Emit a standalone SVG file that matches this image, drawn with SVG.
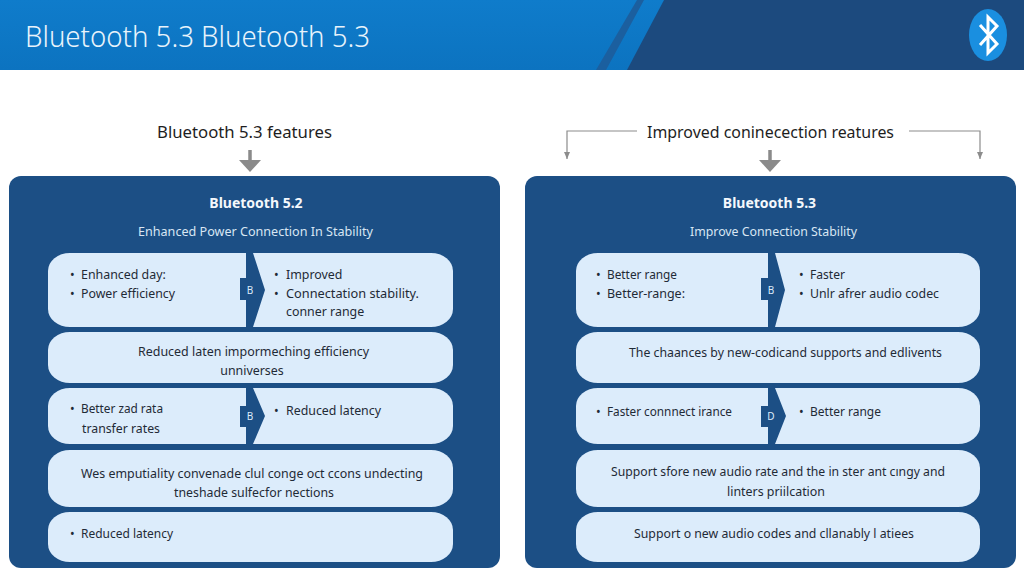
<svg xmlns="http://www.w3.org/2000/svg" width="1024" height="585" viewBox="0 0 1024 585">
<style>
text{font-family:"Noto Sans","Open Sans","Liberation Sans",sans-serif}
.panel{fill:#1c4f85}
.row{fill:#dcecfb}
.t{font-size:12.4px;fill:#1f2a36}
.m{text-anchor:middle}
.h{font-size:14px;font-weight:700;fill:#f4f8fc;text-anchor:middle}
.s{font-size:12.5px;fill:#d8e6f3;text-anchor:middle}
.c{font-size:16px;fill:#1e1e1e;text-anchor:middle}
.chev{fill:#1c4f85}
.b{font-size:10px;fill:#dcecfb;text-anchor:middle}
.thin{fill:none;stroke:#8c8c8c;stroke-width:1.2}
.thick{fill:none;stroke:#8a8a8a;stroke-width:3.5}
</style>
<defs>
<linearGradient id="hg" x1="0" y1="0" x2="0" y2="1"><stop offset="0" stop-color="#0f7ccb"/><stop offset="1" stop-color="#0c73c0"/></linearGradient>
<marker id="big" markerUnits="userSpaceOnUse" markerWidth="14" markerHeight="22" refX="1" refY="11" orient="auto"><path d="M0 0V22L12 11Z" fill="#8a8a8a"/></marker>
<marker id="small" markerUnits="userSpaceOnUse" markerWidth="8" markerHeight="8" refX="7" refY="3" orient="auto"><path d="M0 0L7 3L0 6Z" fill="#8c8c8c"/></marker>
</defs>
<rect width="1024" height="585" fill="#fff"/>
<g id="header">
<rect width="1024" height="70" fill="url(#hg)"/>
<path d="M664 0H1024V70H627Z" fill="#1c4a7e"/>
<path d="M637 0H644L606 70H596Z" fill="#1b5f9f"/>
<text x="25" y="47" font-size="30" font-weight="300" fill="#e8f3fb" textLength="345" lengthAdjust="spacingAndGlyphs">Bluetooth 5.3 Bluetooth 5.3</text>
</g>
<g id="bluetooth-icon">
<ellipse cx="988" cy="35" rx="19" ry="26" fill="#1a8fe0"/>
<path d="M980 25L997 44L988 53V17L997 26L980 45" fill="none" stroke="#fff" stroke-width="3"/>
</g>
<g id="label-left"><text class="c" x="244.500" y="138" textLength="175" lengthAdjust="spacingAndGlyphs">Bluetooth 5.3 features</text></g>
<g id="label-right"><text class="c" x="770.500" y="138" textLength="247" lengthAdjust="spacingAndGlyphs">Improved coninecection reatures</text></g>
<g id="connectors">
<path class="thick" d="M250 150V161" marker-end="url(#big)"/>
<path class="thick" d="M770 150V161" marker-end="url(#big)"/>
<path class="thin" d="M637 131H567V159" marker-end="url(#small)"/>
<path class="thin" d="M909 131H980V159" marker-end="url(#small)"/>
</g>
<g id="panel-left">
<rect class="panel" x="9" y="176" width="491" height="392" rx="12"/>
<text class="h" x="256" y="208">Bluetooth 5.2</text>
<text class="s" x="255.500" y="236" textLength="235" lengthAdjust="spacingAndGlyphs">Enhanced Power Connection In Stability</text>
</g>
<g id="panel-right">
<rect class="panel" x="525" y="176" width="491" height="392" rx="12"/>
<text class="h" x="769.500" y="208">Bluetooth 5.3</text>
<text class="s" x="773.500" y="236" textLength="167" lengthAdjust="spacingAndGlyphs">Improve Connection Stability</text>
</g>
<g id="left-row-1">
<rect class="row" x="48" y="253" width="405" height="74" rx="22" ry="18"/>
<path class="chev" d="M246 253H253L265 290L253 327H246V300H240V278H246Z"/>
<text class="b" x="250" y="294">B</text>
<text class="t" x="70" y="279">•</text><text class="t" x="81" y="279">Enhanced day:</text>
<text class="t" x="70" y="298">•</text><text class="t" x="81" y="298" textLength="94" lengthAdjust="spacingAndGlyphs">Power efficiency</text>
<text class="t" x="274" y="279">•</text><text class="t" x="286" y="279">Improved</text>
<text class="t" x="274" y="298">•</text><text class="t" x="286" y="298" textLength="133" lengthAdjust="spacingAndGlyphs">Connectation stability.</text>
<text class="t" x="286" y="316">conner range</text>
</g>
<g id="left-row-2">
<rect class="row" x="48" y="332" width="405" height="51" rx="22" ry="18"/>
<text class="t m" x="253.500" y="356" textLength="231" lengthAdjust="spacingAndGlyphs">Reduced laten impormeching efficiency</text>
<text class="t m" x="252" y="375">unniverses</text>
</g>
<g id="left-row-3">
<rect class="row" x="48" y="388" width="405" height="56" rx="22" ry="18"/>
<path class="chev" d="M246 388H253L265 416L253 444H246V427H240V406H246Z"/>
<text class="b" x="250" y="420">B</text>
<text class="t" x="70" y="413">•</text><text class="t" x="81" y="413" textLength="82" lengthAdjust="spacingAndGlyphs">Better zad rata</text>
<text class="t" x="82" y="433" textLength="78" lengthAdjust="spacingAndGlyphs">transfer rates</text>
<text class="t" x="274" y="415">•</text><text class="t" x="286" y="415" textLength="95" lengthAdjust="spacingAndGlyphs">Reduced latency</text>
</g>
<g id="left-row-4">
<rect class="row" x="48" y="450" width="405" height="57" rx="22" ry="18"/>
<text class="t m" x="252" y="478" textLength="342" lengthAdjust="spacingAndGlyphs">Wes emputiality convenade clul conge oct ccons undecting</text>
<text class="t m" x="254" y="497" textLength="160" lengthAdjust="spacingAndGlyphs">tneshade sulfecfor nections</text>
</g>
<g id="left-row-5">
<rect class="row" x="48" y="512" width="405" height="50" rx="22" ry="18"/>
<text class="t" x="70" y="538">•</text><text class="t" x="81" y="538" textLength="92" lengthAdjust="spacingAndGlyphs">Reduced latency</text>
</g>
<g id="right-row-1">
<rect class="row" x="576" y="253" width="404" height="74" rx="22" ry="18"/>
<path class="chev" d="M768 253H775L785 290L775 327H768V300H761V278H768Z"/>
<text class="b" x="771" y="294">B</text>
<text class="t" x="596" y="279">•</text><text class="t" x="607" y="279" textLength="70" lengthAdjust="spacingAndGlyphs">Better range</text>
<text class="t" x="596" y="298">•</text><text class="t" x="607" y="298" textLength="78" lengthAdjust="spacingAndGlyphs">Better-range:</text>
<text class="t" x="799" y="279">•</text><text class="t" x="810" y="279" textLength="35" lengthAdjust="spacingAndGlyphs">Faster</text>
<text class="t" x="799" y="298">•</text><text class="t" x="810" y="298" textLength="129" lengthAdjust="spacingAndGlyphs">Unlr afrer audio codec</text>
</g>
<g id="right-row-2">
<rect class="row" x="576" y="332" width="404" height="51" rx="22" ry="18"/>
<text class="t m" x="785.500" y="357" textLength="313" lengthAdjust="spacingAndGlyphs">The chaances by new-codicand supports and edlivents</text>
</g>
<g id="right-row-3">
<rect class="row" x="576" y="388" width="404" height="56" rx="22" ry="18"/>
<path class="chev" d="M768 388H775L786 416L775 444H768V427H761V406H768Z"/>
<text class="b" x="771" y="420">D</text>
<text class="t" x="596" y="416">•</text><text class="t" x="607" y="416" textLength="125" lengthAdjust="spacingAndGlyphs">Faster connnect irance</text>
<text class="t" x="799" y="416">•</text><text class="t" x="810" y="416" textLength="71" lengthAdjust="spacingAndGlyphs">Better range</text>
</g>
<g id="right-row-4">
<rect class="row" x="576" y="450" width="404" height="57" rx="22" ry="18"/>
<text class="t m" x="778" y="476" textLength="334" lengthAdjust="spacingAndGlyphs">Support sfore new audio rate and the in ster ant cıngy and</text>
<text class="t m" x="776" y="496" textLength="98" lengthAdjust="spacingAndGlyphs">linters priilcation</text>
</g>
<g id="right-row-5">
<rect class="row" x="576" y="512" width="404" height="50" rx="22" ry="18"/>
<text class="t m" x="774" y="538" textLength="280" lengthAdjust="spacingAndGlyphs">Support o new audio codes and cllanably l atiees</text>
</g>
</svg>
